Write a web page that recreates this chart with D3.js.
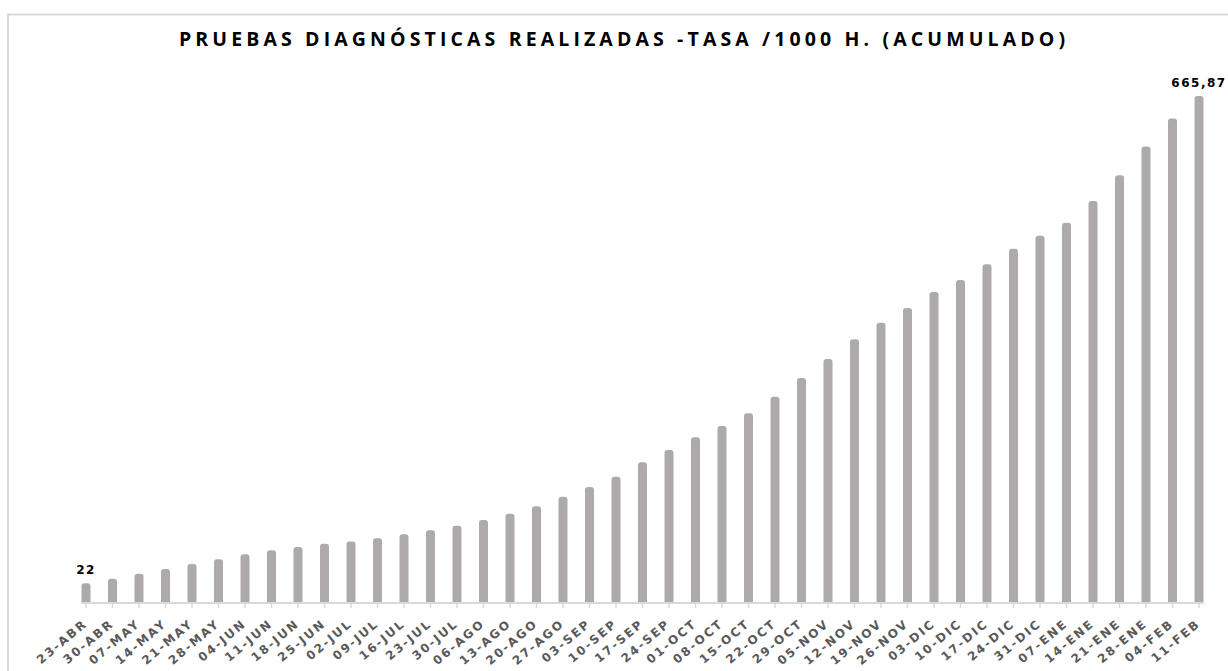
<!DOCTYPE html>
<html>
<head>
<meta charset="utf-8">
<script src="https://cdn.jsdelivr.net/npm/d3@7/dist/d3.min.js"></script>
<style>
  body { margin: 0; background: #fff; }
  svg { display: block; }
</style>
</head>
<body>
<svg id="chart"></svg>
<script>
// semanas (eje X)
const semanas = ['23-ABR', '30-ABR', '07-MAY', '14-MAY', '21-MAY', '28-MAY', '04-JUN', '11-JUN',
  '18-JUN', '25-JUN', '02-JUL', '09-JUL', '16-JUL', '23-JUL', '30-JUL', '06-AGO', '13-AGO',
  '20-AGO', '27-AGO', '03-SEP', '10-SEP', '17-SEP', '24-SEP', '01-OCT', '08-OCT', '15-OCT',
  '22-OCT', '29-OCT', '05-NOV', '12-NOV', '19-NOV', '26-NOV', '03-DIC', '10-DIC', '17-DIC',
  '24-DIC', '31-DIC', '07-ENE', '14-ENE', '21-ENE', '28-ENE', '04-FEB', '11-FEB'];

// tasa acumulada por 1000 h.
const tasa = [22, 28.1, 34.8, 41.0, 47.6, 53.8, 60.4, 65.7, 70.0, 74.4, 77.3, 81.5, 86.8, 92.1,
  98.2, 105.7, 114.0, 123.8, 136.5, 149.3, 162.9, 182.0, 198.2, 215.0, 229.9, 246.7, 268.6,
  293.3, 318.4, 344.5, 366.4, 385.8, 407.0, 422.8, 443.6, 464.2, 481.4, 498.5, 527.2, 561.2,
  599.0, 636.0, 665.87];

// etiquetas de datos visibles (primera y ultima)
const etiquetas = ['22', '665,87'];
const etiquetaIdx = [0, tasa.length - 1];

const titulo = 'PRUEBAS DIAGNÓSTICAS REALIZADAS -TASA /1000 H. (ACUMULADO)';

const width = 1228;
const height = 671;
const axisY = 603;
const barW = 9;
const r = 3;

const svg = d3.select('#chart')
  .attr('width', width)
  .attr('height', height);

// marco del grafico
svg.append('rect')
  .attr('x', 8)
  .attr('y', 14.5)
  .attr('width', 1240)
  .attr('height', 700)
  .attr('fill', 'none')
  .attr('stroke', '#d9d9d9')
  .attr('stroke-width', 2);

svg.append('text')
  .attr('x', 622)
  .attr('y', 46)
  .attr('text-anchor', 'middle')
  .attr('textLength', 886)
  .attr('lengthAdjust', 'spacing')
  .style('font-family', '"Open Sans", sans-serif')
  .style('font-weight', 'bold')
  .style('font-size', '19.5px')
  .style('fill', '#000')
  .text(titulo);

const x = d3.scaleBand()
  .domain(semanas)
  .range([72.75, 1212.25])
  .padding(0);

const y = d3.scaleLinear()
  .domain([0, 665.87])
  .range([600, 96]);

const cx = d => x(d) + x.bandwidth() / 2;

// barras con la parte superior redondeada
svg.append('g')
  .selectAll('path')
  .data(tasa)
  .join('path')
  .attr('fill', '#aeaaaa')
  .attr('d', (v, i) => {
    const x0 = cx(semanas[i]) - barW / 2;
    const top = y(v);
    return `M${x0},${axisY} V${top + r} A${r},${r} 0 0 1 ${x0 + r},${top} H${x0 + barW - r} ` +
      `A${r},${r} 0 0 1 ${x0 + barW},${top + r} V${axisY} Z`;
  });

// eje X
const xAxis = svg.append('g')
  .attr('transform', `translate(0, ${axisY})`)
  .call(d3.axisBottom(x).tickSize(5).tickSizeOuter(0));

xAxis.select('.domain').remove();
xAxis.selectAll('.tick line')
  .attr('stroke', '#d9d9d9')
  .attr('stroke-width', 1.5);
xAxis.selectAll('.tick text')
  .attr('text-anchor', 'end')
  .attr('x', 0)
  .attr('y', 0)
  .attr('dy', 0)
  .attr('transform', 'translate(2, 22) rotate(-40)')
  .style('font-family', '"DejaVu Sans", Verdana, sans-serif')
  .style('font-weight', 'bold')
  .style('font-size', '12px')
  .style('letter-spacing', '2px')
  .style('fill', '#595959');

svg.append('line')
  .attr('x1', cx(semanas[0]) - barW / 2)
  .attr('x2', cx(semanas[semanas.length - 1]) + barW / 2)
  .attr('y1', axisY)
  .attr('y2', axisY)
  .attr('stroke', '#d9d9d9')
  .attr('stroke-width', 2);

// etiquetas de datos
svg.append('g')
  .selectAll('text')
  .data(etiquetaIdx)
  .join('text')
  .attr('x', i => cx(semanas[i]))
  .attr('y', i => y(tasa[i]) - 9)
  .attr('text-anchor', 'middle')
  .style('font-family', '"DejaVu Sans", Verdana, sans-serif')
  .style('font-weight', 'bold')
  .style('font-size', '12px')
  .style('letter-spacing', '1.5px')
  .style('fill', '#000')
  .text((d, k) => etiquetas[k]);
</script>
</body>
</html>
